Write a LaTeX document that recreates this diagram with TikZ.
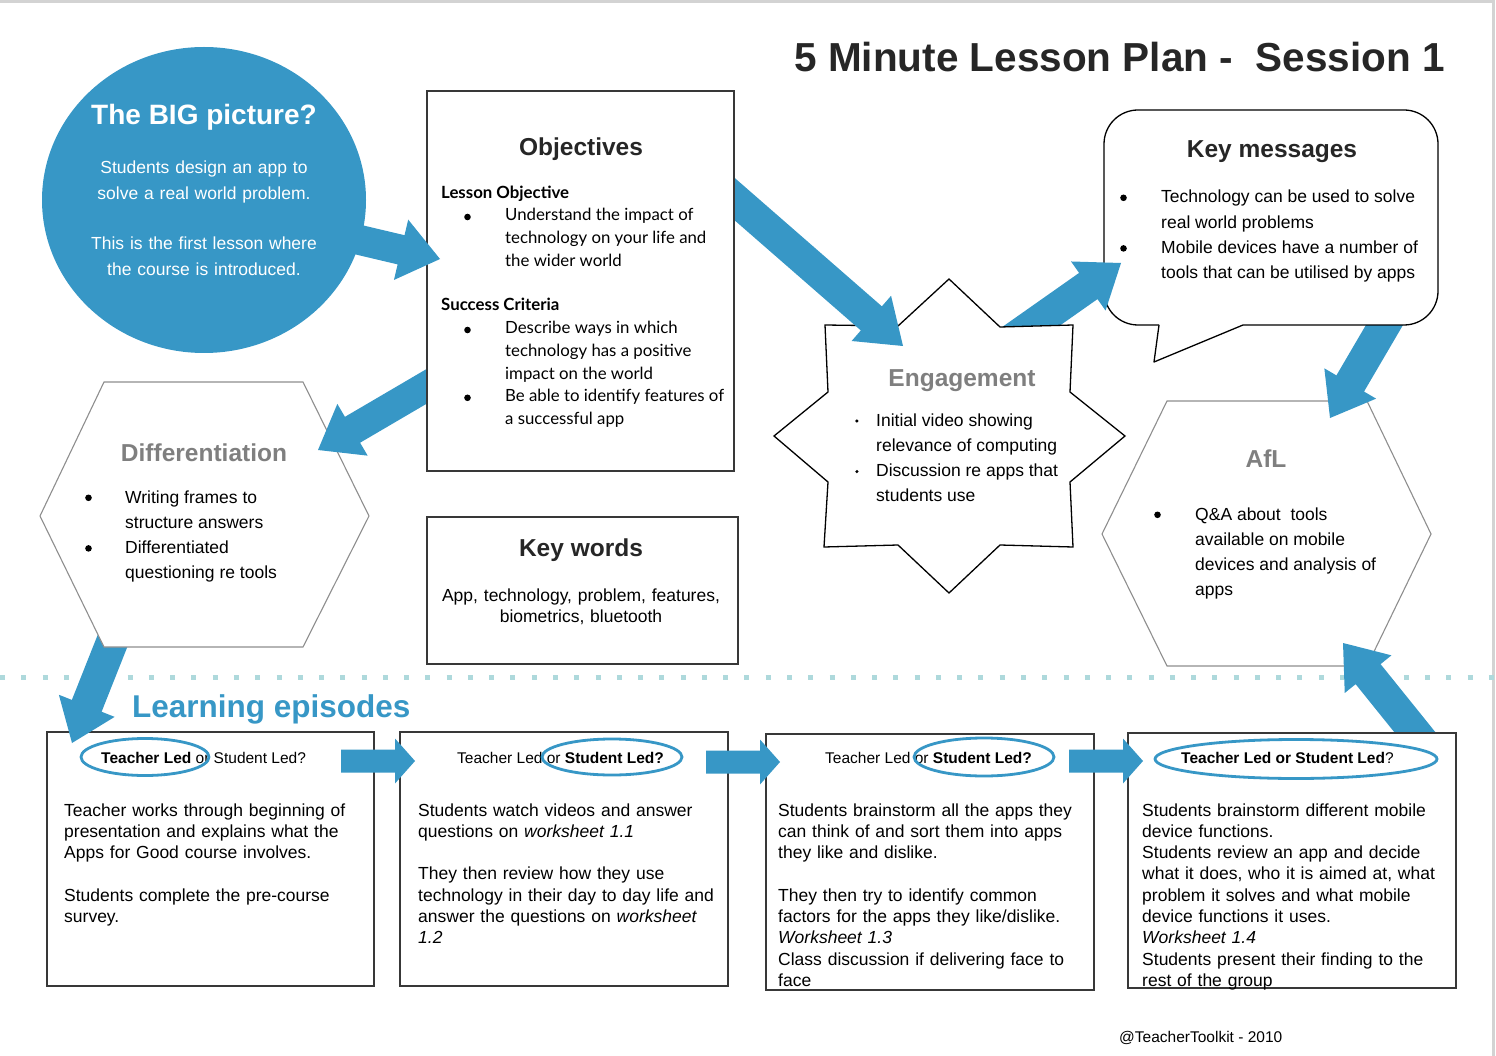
\documentclass[tikz,border=0pt]{standalone}
\usepackage{fontspec}
\setmainfont{Liberation Sans}
\newfontfamily\roundfont{Lato}
\usepackage{tikz}
\usetikzlibrary{shapes.geometric, positioning, calc}
\definecolor{lessonBlue}{HTML}{3797C6}
\definecolor{boxLine}{HTML}{383838}
\definecolor{hexLine}{HTML}{8E8E8E}
\definecolor{headGrey}{HTML}{7F7F7F}
\definecolor{dotTeal}{HTML}{AED9DC}
\definecolor{pageLine}{HTML}{D3D3D3}
\definecolor{titleInk}{HTML}{262626}

% fat arrow: tail, tip, shaft half width, head half width, head length
\newcommand{\blockarrow}[5]{%
  \coordinate (headbase) at ($(#2)!#5!(#1)$);
  \fill[lessonBlue] ($(#1)!#3!90:(#2)$) -- ($(headbase)!#3!-90:(#1)$) -- ($(headbase)!#4!-90:(#1)$) -- (#2)
    -- ($(headbase)!#4!90:(#1)$) -- ($(headbase)!#3!90:(#1)$) -- ($(#1)!#3!-90:(#2)$) -- cycle;}
\newcommand{\bulletlist}[2]{\begin{tabular}[t]{@{}p{#1}@{}l@{}}#2\end{tabular}}
\newcommand{\listdot}[1][5.2pt]{\tikz[baseline=-#1]\fill (0,0) circle (3.3pt);}
\newcommand{\smalldot}{\tikz[baseline=-5pt]\fill (0,0) circle (1.7pt);}

\begin{document}
\begin{tikzpicture}[x=1pt, y=-1pt,
    panel/.style={draw=boxLine, line width=1.8pt, fill=white, inner sep=0pt, anchor=north west},
    hexpanel/.style={draw=hexLine, line width=1.1pt, fill=white},
    outline/.style={draw=black, line width=1.3pt, fill=white},
    heading/.style={anchor=base, inner sep=0pt, font=\bfseries\fontsize{24.5}{28}\selectfont},
    greyhead/.style={heading, text=headGrey},
    bodytext/.style={anchor=base west, inner sep=0pt, align=left, text width=320pt, font=\fontsize{17.5}{21.3}\selectfont},
    listtext/.style={anchor=base west, inner sep=0pt, font=\fontsize{17.5}{25.3}\selectfont},
    objtext/.style={anchor=base west, inner sep=0pt, font=\roundfont\fontsize{16.8}{22.6}\selectfont},
    ledtext/.style={anchor=base west, inner sep=0pt, font=\fontsize{15.5}{18}\selectfont},
    ring/.style={ellipse, draw=lessonBlue, line width=2.8pt, inner sep=0pt}
  ]
  \useasboundingbox (0,0) rectangle (1496,1056);

  % page edges and the dotted divider
  \draw[pageLine, line width=3pt] (0,1.5) -- (1492,1.5);
  \draw[pageLine, line width=3pt] (1493,0) -- (1493,1056);
  \draw[dotTeal, line width=5pt, dash pattern=on 5pt off 16.27pt] (0,677.5) -- (1496,677.5);

  % arrow ends
  \coordinate (aTail) at (330,233);  \coordinate (aTip) at (440,259);
  \coordinate (bTail) at (715,182);  \coordinate (bTip) at (903,346);
  \coordinate (cTail) at (1003,346); \coordinate (cTip) at (1121,263);
  \coordinate (dTail) at (446,375);  \coordinate (dTip) at (318,450);
  \coordinate (eTail) at (1395,307); \coordinate (eTip) at (1330,418);
  \coordinate (fTail) at (122,617);  \coordinate (fTip) at (72,743);
  \coordinate (gTail) at (1430,751); \coordinate (gTip) at (1343,643);
  \coordinate (h1Tail) at (341,761); \coordinate (h1Tip) at (415,761);
  \coordinate (h2Tail) at (706,762); \coordinate (h2Tip) at (780,762);
  \coordinate (h3Tail) at (1069,761); \coordinate (h3Tip) at (1143,761);

  \node (title) [anchor=base east, inner sep=0pt, text=titleInk, font=\bfseries\fontsize{40.5}{44}\selectfont] at (1445,72) {5 Minute Lesson Plan -\ \ Session 1};

  % big picture
  \node (bigpic) [ellipse, fill=lessonBlue, minimum width=324pt, minimum height=306pt, inner sep=0pt] at (204,200) {};
  \node (bigtitle) [anchor=base, inner sep=0pt, text=white, font=\bfseries\fontsize{28}{32}\selectfont] at (204,125) {The BIG picture?};
  \node (bigtext) [anchor=base, inner sep=0pt, text=white, align=center, text width=300pt, font=\fontsize{17.5}{25.3}\selectfont] at (204,174)
    {Students design an app to\\ solve a real world problem.\\[\baselineskip] This is the first lesson where\\ the course is introduced.};

  % learning episode boxes
  \node (ep1) [panel, minimum width=327pt, minimum height=254pt] at (46,731) {};
  \node (ep2) [panel, minimum width=328pt, minimum height=254pt] at (399,731) {};
  \node (ep3) [panel, minimum width=328pt, minimum height=256pt] at (765,733) {};

  \blockarrow{fTail}{fTip}{16pt}{30pt}{40pt}

  % differentiation
  \draw[hexpanel] (40,516) -- (104,382) -- (303,382) -- (369,516) -- (303,647) -- (104,647) -- cycle;
  \blockarrow{dTail}{dTip}{15pt}{30pt}{40pt}

  % AfL
  \draw[hexpanel] (1102,534) -- (1167,401) -- (1367,401) -- (1431,534) -- (1367,666) -- (1167,666) -- cycle;
  \blockarrow{eTail}{eTip}{16pt}{30pt}{40pt}
  \blockarrow{gTail}{gTip}{16pt}{30pt}{40pt}
  \node (ep4) [panel, minimum width=328pt, minimum height=255pt] at (1127,732) {};

  % key messages bubble
  \draw[outline, rounded corners=34pt] (1104,110) rectangle (1438,325);
  \fill[white] (1160.5,322) -- (1241.5,322) -- (1243,325) -- (1154,362) -- (1159,325) -- cycle;
  \draw[black, line width=1.3pt, line join=round] (1159,325) -- (1154,362) -- (1243,325);
  \blockarrow{cTail}{cTip}{16pt}{30pt}{40pt}

  % engagement star
  \draw[outline] (825,325) -- (898,326) -- (949,279) -- (1000,327) -- (1073,325) -- (1070,392) -- (1125,436) -- (1070,482)
    -- (1073,547) -- (1000,545) -- (949,593) -- (898,545) -- (824,547) -- (828,482) -- (774,436) -- (828,392) -- cycle;
  \blockarrow{bTail}{bTip}{16pt}{30pt}{42pt}

  % objectives and key words
  \node (obj) [panel, minimum width=307pt, minimum height=380pt] at (426,90) {};
  \blockarrow{aTail}{aTip}{15pt}{31pt}{40pt}
  \node (kw) [panel, minimum width=311pt, minimum height=147pt] at (426,516) {};

  \blockarrow{h1Tail}{h1Tip}{11.5pt}{22.5pt}{20pt}
  \blockarrow{h2Tail}{h2Tip}{11.5pt}{22.5pt}{20pt}
  \blockarrow{h3Tail}{h3Tip}{11.5pt}{22.5pt}{20pt}

  % texts
  \node (objhead) [heading, text=titleInk] at (581,156) {Objectives};
  \node (lessonobj) [objtext, font=\roundfont\bfseries\fontsize{16.8}{22.6}\selectfont] at (441,199) {Lesson Objective};
  \node (lessonlist) [objtext] at (464,221) {\bulletlist{41pt}{\listdot[4pt] & Understand the impact of\\ & technology on your life and\\ & the wider world}};
  \node (success) [objtext, font=\roundfont\bfseries\fontsize{16.8}{22.6}\selectfont] at (441,311) {Success Criteria};
  \node (successlist) [objtext] at (464,334) {\bulletlist{41pt}{\listdot[4pt] & Describe ways in which\\ & technology has a positive\\ & impact on the world\\
    \listdot[4pt] & Be able to identify features of\\ & a successful app}};

  \node (kwhead) [heading, text=titleInk] at (581,556) {Key words};
  \node (kwtext) [bodytext, anchor=base, align=center, text width=310pt] at (581,601) {App, technology, problem, features,\\ biometrics, bluetooth};

  \node (diffhead) [greyhead] at (204,461) {Differentiation};
  \node (difflist) [listtext] at (85,503) {\bulletlist{40pt}{\listdot & Writing frames to\\ & structure answers\\ \listdot & Differentiated\\ & questioning re tools}};

  \node (enghead) [greyhead] at (962,386) {Engagement};
  \node (englist) [listtext] at (855,426) {\bulletlist{21pt}{\smalldot & Initial video showing\\ & relevance of computing\\
    \smalldot & Discussion re apps that\\ & students use}};

  \node (keyhead) [heading, text=titleInk] at (1272,158) {Key messages};
  \node (keylist) [listtext] at (1120,203) {\bulletlist{41pt}{\listdot & Technology can be used to solve\\ & real world problems\\
    \listdot & Mobile devices have a number of\\ & tools that can be utilised by apps}};

  \node (aflhead) [greyhead] at (1266,467) {AfL};
  \node (afllist) [listtext] at (1154,520) {\bulletlist{41pt}{\listdot & Q\&A about\ \ tools\\ & available on mobile\\ & devices and analysis of\\ & apps}};

  \node (learnhead) [anchor=base west, inner sep=0pt, text=lessonBlue, font=\bfseries\fontsize{31.5}{36}\selectfont] at (132,717) {Learning episodes};

  \node (led1) [ledtext] at (101,763) {\textbf{Teacher Led} or Student Led?};
  \node (led2) [ledtext] at (457,763) {Teacher Led or \textbf{Student Led?}};
  \node (led3) [ledtext] at (825,763) {Teacher Led or \textbf{Student Led?}};
  \node (led4) [ledtext] at (1181,763) {\textbf{Teacher Led or Student Led}?};
  \node (ring1) [ring, minimum width=128pt, minimum height=37pt] at (145,757) {};
  \node (ring2) [ring, minimum width=140pt, minimum height=36pt] at (612,757) {};
  \node (ring3) [ring, minimum width=140pt, minimum height=38pt] at (984,757) {};
  \node (ring4) [ring, minimum width=282pt, minimum height=39pt] at (1296,759) {};

  \node (ep1text) [bodytext] at (64,816) {Teacher works through beginning of\\ presentation and explains what the\\ Apps for Good course involves.\\[\baselineskip]
    Students complete the pre-course\\ survey.};
  \node (ep2text) [bodytext] at (418,816) {Students watch videos and answer\\ questions on \textit{worksheet 1.1}\\[\baselineskip]
    They then review how they use\\ technology in their day to day life and\\ answer the questions on \textit{worksheet}\\ \textit{1.2}};
  \node (ep3text) [bodytext] at (778,816) {Students brainstorm all the apps they\\ can think of and sort them into apps\\ they like and dislike.\\[\baselineskip]
    They then try to identify common\\ factors for the apps they like/dislike.\\ \textit{Worksheet 1.3}\\ Class discussion if delivering face to\\ face};
  \node (ep4text) [bodytext] at (1142,816) {Students brainstorm different mobile\\ device functions.\\ Students review an app and decide\\ what it does, who it is aimed at, what\\
    problem it solves and what mobile\\ device functions it uses.\\ \textit{Worksheet 1.4}\\ Students present their finding to the\\ rest of the group};

  \node (footer) [anchor=base west, inner sep=0pt, font=\fontsize{15.5}{18}\selectfont] at (1119,1042) {@TeacherToolkit - 2010};
\end{tikzpicture}
\end{document}
